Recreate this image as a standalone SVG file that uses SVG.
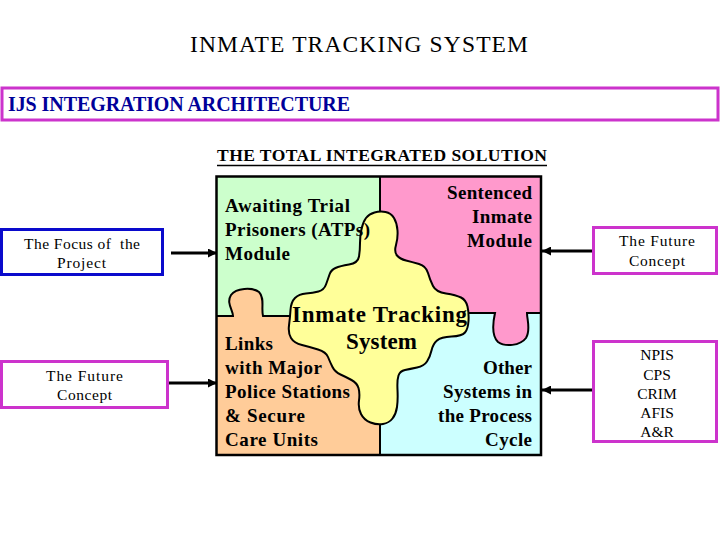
<svg xmlns="http://www.w3.org/2000/svg" width="720" height="540" viewBox="0 0 720 540">
<style>
.serif{font-family:"Liberation Serif","Times New Roman",serif;}
.pz{font-family:"Liberation Serif","Times New Roman",serif;font-size:19px;font-weight:bold;fill:#000;}
.pzl{font-family:"Liberation Serif","Times New Roman",serif;font-size:23px;font-weight:bold;fill:#000;}
.bx{font-family:"Liberation Serif","Times New Roman",serif;font-size:15.5px;fill:#000;}
.line{stroke:#000;stroke-width:2;fill:none;}
.conn{stroke:#000;stroke-width:3;fill:none;}
.mag{fill:#fff;stroke:#cc33cc;stroke-width:3;}
.blue{fill:#fff;stroke:#0a0acc;stroke-width:3;}
</style>
<defs>
<marker id="ah" viewBox="0 0 10 10" refX="10" refY="5" markerWidth="9" markerHeight="9" markerUnits="userSpaceOnUse" orient="auto">
<path d="M0,0 L10,5 L0,10 z" fill="#000"/>
</marker>
</defs>
<rect width="720" height="540" fill="#fff"/>
<text class="serif" x="190" y="52" font-size="23.5" textLength="338" lengthAdjust="spacing">INMATE TRACKING SYSTEM</text>
<g id="banner">
<rect x="2" y="88" width="716" height="32" fill="#fff" stroke="#cc33cc" stroke-width="3"/>
<text class="serif" x="8" y="111" font-size="20" font-weight="bold" fill="#000099" textLength="342" lengthAdjust="spacing">IJS INTEGRATION ARCHITECTURE</text>
</g>
<g id="subtitle">
<text class="serif" x="217" y="161" font-size="17.5" font-weight="bold" textLength="330" lengthAdjust="spacing">THE TOTAL INTEGRATED SOLUTION</text>
<line x1="217" y1="165.5" x2="547" y2="165.5" stroke="#000" stroke-width="1.3"/>
</g>
<g id="puzzle">
<rect x="216" y="176" width="164" height="140" fill="#ccffcc"/>
<rect x="380" y="176" width="161" height="137" fill="#ff99cc"/>
<rect x="216" y="316" width="164" height="139" fill="#ffcc99"/>
<rect x="380" y="313" width="161" height="142" fill="#ccffff"/>
<path d="M233,317 C233,310 226,303 231,295 C236,288 252,287 259,292 C265,298 261,308 263,317 Z" fill="#ffcc99"/>
<path d="M494,312 C493,322 491,335 498,342 C505,347 520,346 526,338 C531,330 527,320 527,312 Z" fill="#ff99cc"/>
<path class="line" d="M216,316 H233 C233,310 226,303 231,295 C236,288 252,287 259,292 C265,298 261,308 263,316 H292"/>
<path class="line" d="M466,313 H495 C493,322 491,335 498,342 C505,347 520,346 526,338 C531,330 527,320 527,313 H541"/>
<line class="line" x1="380" y1="176" x2="380" y2="213"/>
<line class="line" x1="380" y1="423" x2="380" y2="455"/>
<path d="M374.5,212.5 Q380,211 385.5,212 Q391,213 394,218 Q397,223 397.5,230.5 Q398,238 396,245 Q394,252 397,255.5 Q400,259 406,260.5 Q412,262 419,264 Q426,266 428,273 Q430,280 433,286 Q436,292 446,293.5 Q456,295 461,297.5 Q466,300 467.5,306.5 Q469,313 468.5,321 Q468,329 465,332.5 Q462,336 451.5,336.5 Q441,337 437,340.5 Q433,344 431.5,350.5 Q430,357 427,361.5 Q424,366 417,367.5 Q410,369 405,370 Q400,371 398.5,375.5 Q397,380 397.5,390 Q398,400 397,407 Q396,414 392.5,418.5 Q389,423 383,424 Q377,425 370.5,422.5 Q364,420 361,414 Q358,408 359,400.5 Q360,393 358.5,388 Q357,383 351.5,380 Q346,377 340.5,374.5 Q335,372 332.5,367 Q330,362 328,357 Q326,352 318,349.5 Q310,347 302,345 Q294,343 291,338 Q288,333 289,325.5 Q290,318 290.5,310 Q291,302 295,298 Q299,294 306,293.5 Q313,293 318.5,291.5 Q324,290 326,284.5 Q328,279 329.5,274.5 Q331,270 335.5,268 Q340,266 349,264.5 Q358,263 359,256.5 Q360,250 360,243 Q360,236 361.5,229 Q363,222 366,218 Q369,214 374.5,212.5 Z" fill="#ffff99" stroke="#000" stroke-width="2"/>
<rect x="216.5" y="176.5" width="324.5" height="278.5" fill="none" stroke="#000" stroke-width="2.5"/>
<text class="pz" x="225" y="212" textLength="125" lengthAdjust="spacing">Awaiting Trial</text>
<text class="pz" x="225" y="236" textLength="145" lengthAdjust="spacing">Prisoners (ATPs)</text>
<text class="pz" x="225" y="260" textLength="65" lengthAdjust="spacing">Module</text>
<text class="pz" x="532" y="199" text-anchor="end" textLength="85" lengthAdjust="spacing">Sentenced</text>
<text class="pz" x="532" y="223" text-anchor="end" textLength="60" lengthAdjust="spacing">Inmate</text>
<text class="pz" x="532" y="247" text-anchor="end" textLength="65" lengthAdjust="spacing">Module</text>
<text class="pzl" x="292" y="322" textLength="175" lengthAdjust="spacing">Inmate Tracking</text>
<text class="pzl" x="346" y="349" textLength="71" lengthAdjust="spacing">System</text>
<text class="pz" x="225" y="350" textLength="48" lengthAdjust="spacing">Links</text>
<text class="pz" x="225" y="374" textLength="97" lengthAdjust="spacing">with Major</text>
<text class="pz" x="225" y="398" textLength="125" lengthAdjust="spacing">Police Stations</text>
<text class="pz" x="225" y="422" textLength="80" lengthAdjust="spacing">&amp; Secure</text>
<text class="pz" x="225" y="446" textLength="93" lengthAdjust="spacing">Care Units</text>
<text class="pz" x="532" y="374" text-anchor="end" textLength="49" lengthAdjust="spacing">Other</text>
<text class="pz" x="532" y="398" text-anchor="end" textLength="89" lengthAdjust="spacing">Systems in</text>
<text class="pz" x="532" y="422" text-anchor="end" textLength="94" lengthAdjust="spacing">the Process</text>
<text class="pz" x="532" y="446" text-anchor="end" textLength="47" lengthAdjust="spacing">Cycle</text>
</g>
<g id="focus">
<rect class="blue" x="1.5" y="229.5" width="161" height="45"/>
<text class="bx" x="24" y="249" textLength="116" lengthAdjust="spacing" xml:space="preserve">The Focus of  the</text>
<text class="bx" x="57" y="268" textLength="49" lengthAdjust="spacing">Project</text>
</g>
<g id="future-left">
<rect class="mag" x="1.5" y="361.5" width="166" height="46"/>
<text class="bx" x="46" y="381" textLength="77" lengthAdjust="spacing">The Future</text>
<text class="bx" x="57" y="400" textLength="55" lengthAdjust="spacing">Concept</text>
</g>
<g id="future-right">
<rect class="mag" x="593.5" y="227.5" width="123" height="46"/>
<text class="bx" x="619" y="246" textLength="76" lengthAdjust="spacing">The Future</text>
<text class="bx" x="629" y="266" textLength="56" lengthAdjust="spacing">Concept</text>
</g>
<g id="systems">
<rect class="mag" x="593.5" y="341.5" width="123" height="100"/>
<text class="bx" x="657" y="360" text-anchor="middle">NPIS</text>
<text class="bx" x="657" y="380" text-anchor="middle">CPS</text>
<text class="bx" x="657" y="399" text-anchor="middle">CRIM</text>
<text class="bx" x="657" y="418" text-anchor="middle">AFIS</text>
<text class="bx" x="657" y="437" text-anchor="middle">A&amp;R</text>
</g>
<g id="connectors">
<line class="conn" x1="171" y1="253" x2="217" y2="253" marker-end="url(#ah)"/>
<line class="conn" x1="169" y1="383" x2="217" y2="383" marker-end="url(#ah)"/>
<line class="conn" x1="592" y1="251" x2="542" y2="251" marker-end="url(#ah)"/>
<line class="conn" x1="592" y1="390" x2="542" y2="390" marker-end="url(#ah)"/>
</g>
</svg>
